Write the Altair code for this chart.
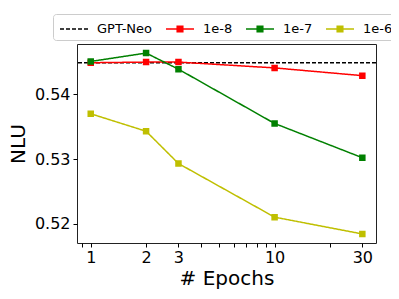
import altair as alt
import pandas as pd

epochs = [1, 2, 3, 10, 30]
series_names = ["GPT-Neo", "1e-8", "1e-7", "1e-6"]
colors = ["#000000", "#ff0000", "#008000", "#bfbf00"]
nlu_1e8 = [0.5449, 0.5450, 0.5450, 0.5441, 0.5429]
nlu_1e7 = [0.5451, 0.5464, 0.5439, 0.5355, 0.5302]
nlu_1e6 = [0.5370, 0.5343, 0.5293, 0.5210, 0.5184]
gpt_neo = 0.5449
y_ticks = [0.52, 0.53, 0.54]
x_ticks = [0.9, 1, 2, 3, 4, 5, 6, 7, 8, 9, 10, 20, 30]

rows = []
for name, vals in [("1e-8", nlu_1e8), ("1e-7", nlu_1e7), ("1e-6", nlu_1e6)]:
    for e, v in zip(epochs, vals):
        rows.append({"series": name, "epoch": e, "nlu": v})
df = pd.DataFrame(rows)
base_df = pd.DataFrame({"series": ["GPT-Neo"], "nlu": [gpt_neo]})

line_path = "M-1.4,0H1.4"
marker_path = "M-1.4,0H1.4M-0.28,-0.28H0.28V0.28H-0.28Z"

legend = alt.Legend(title=None, orient="none", direction="horizontal",
                    legendX=-24, legendY=-30)

stroke = alt.Stroke("series:N", scale=alt.Scale(domain=series_names, range=colors), legend=legend)
dash = alt.StrokeDash("series:N", scale=alt.Scale(domain=series_names, range=[[4, 2], [1, 0], [1, 0], [1, 0]]), legend=legend)
fill = alt.Fill("series:N", scale=alt.Scale(domain=series_names, range=["transparent"] + colors[1:]), legend=legend)
shape = alt.Shape("series:N", scale=alt.Scale(domain=series_names, range=[line_path, marker_path, marker_path, marker_path]), legend=legend)

xenc = alt.X("epoch:Q",
             scale=alt.Scale(type="log", domain=[0.842, 35.6], nice=False),
             axis=alt.Axis(values=x_ticks, title="# Epochs",
                           labelExpr="indexof([1,2,3,10,30], datum.value) >= 0 ? toString(datum.value) : ''",
                           labelOverlap=False, labelFlush=False, grid=False))
yscale = alt.Scale(domain=[0.5170, 0.5478], nice=False, zero=False)
yenc = alt.Y("nlu:Q", scale=yscale,
             axis=alt.Axis(values=y_ticks, format=".2f", title="NLU", grid=False))

rule = alt.Chart(base_df).mark_rule(strokeWidth=1.5).encode(
    y=alt.Y("nlu:Q", scale=yscale), stroke=stroke, strokeDash=dash)
lines = alt.Chart(df).mark_line(strokeWidth=1.5).encode(
    x=xenc, y=yenc, stroke=stroke, strokeDash=dash, detail="series:N")
points = alt.Chart(df).mark_point(filled=True, size=538, strokeWidth=0, opacity=1).encode(
    x=xenc, y=yenc, fill=fill, shape=shape)

chart = alt.layer(rule, lines, points).properties(
    width=299, height=199,
    autosize=alt.AutoSizeParams(type="none"),
    padding={"left": 69, "top": 36, "right": 15, "bottom": 54},
).configure_view(stroke="#222", strokeWidth=1).configure_axis(
    labelFont="DejaVu Sans", titleFont="DejaVu Sans", labelFontSize=16, titleFontSize=20,
    labelColor="#000", titleColor="#000", titleFontWeight="normal",
    domain=False, tickColor="#000", tickSize=4, labelPadding=2,
).configure_axisY(titlePadding=6, labelPadding=3).configure_axisX(titlePadding=3).configure_legend(
    labelFontSize=13, labelFont="DejaVu Sans", labelColor="#000",
    symbolSize=400, symbolStrokeWidth=1.5, symbolOffset=6, labelOffset=12, columnPadding=10,
    padding=4, fillColor="white", strokeColor="#cccccc", cornerRadius=3,
)

chart.save("out.html", embed_options={"renderer": "svg", "actions": False})
